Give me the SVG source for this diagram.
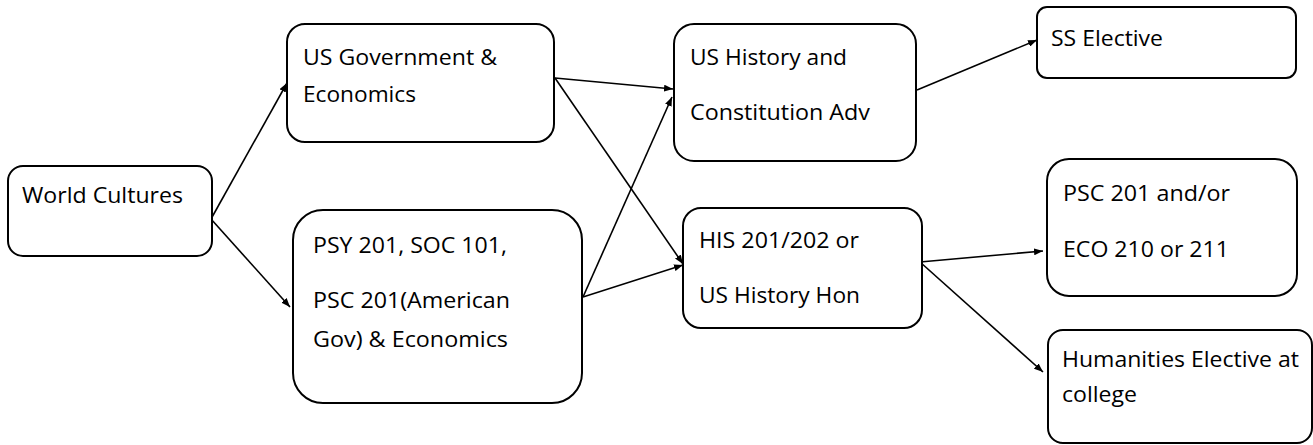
<svg xmlns="http://www.w3.org/2000/svg" width="1313" height="445" viewBox="0 0 1313 445">
<style>
.box{fill:#fff;stroke:#000;stroke-width:2}
.t{font-family:"Open Sans","Noto Sans","Liberation Sans",sans-serif;font-size:21px;fill:#000}
.c{stroke:#000;stroke-width:1.6;fill:none;marker-end:url(#ah)}
</style>
<defs>
<marker id="ah" markerUnits="userSpaceOnUse" markerWidth="9" markerHeight="7" refX="9" refY="3.5" orient="auto">
<path d="M0,0 L9,3.5 L0,7 z" fill="#000"/>
</marker>
</defs>
<rect width="1313" height="445" fill="#fff"/>
<g id="connectors">
<line class="c" x1="211" y1="219" x2="287" y2="83"/>
<line class="c" x1="211" y1="219" x2="290" y2="307"/>
<line class="c" x1="555" y1="78" x2="673" y2="89"/>
<line class="c" x1="555" y1="78" x2="683" y2="264"/>
<line class="c" x1="583" y1="297" x2="672" y2="97"/>
<line class="c" x1="583" y1="297" x2="683" y2="265"/>
<line class="c" x1="917" y1="90" x2="1037" y2="40"/>
<line class="c" x1="920" y1="262" x2="1043" y2="251"/>
<line class="c" x1="920" y1="262" x2="1043" y2="372"/>
</g>
<g id="world-cultures">
<rect class="box" x="8" y="166" width="204" height="90" rx="15"/>
<text class="t" x="22" y="203" textLength="161" lengthAdjust="spacingAndGlyphs">World Cultures</text>
</g>
<g id="us-government">
<rect class="box" x="287" y="24" width="267" height="118" rx="18"/>
<text class="t" x="303" y="65" textLength="194" lengthAdjust="spacingAndGlyphs">US Government &amp;</text>
<text class="t" x="303" y="102" textLength="113" lengthAdjust="spacingAndGlyphs">Economics</text>
</g>
<g id="psy-soc-psc">
<rect class="box" x="293" y="210" width="289" height="193" rx="30"/>
<text class="t" x="313" y="253" textLength="194" lengthAdjust="spacingAndGlyphs">PSY 201, SOC 101,</text>
<text class="t" x="313" y="308" textLength="197" lengthAdjust="spacingAndGlyphs">PSC 201(American</text>
<text class="t" x="313" y="347" textLength="195" lengthAdjust="spacingAndGlyphs">Gov) &amp; Economics</text>
</g>
<g id="us-history-adv">
<rect class="box" x="674" y="24" width="242" height="137" rx="20"/>
<text class="t" x="690" y="65" textLength="157" lengthAdjust="spacingAndGlyphs">US History and</text>
<text class="t" x="690" y="120" textLength="180" lengthAdjust="spacingAndGlyphs">Constitution Adv</text>
</g>
<g id="ss-elective">
<rect class="box" x="1037" y="7" width="259" height="71" rx="10"/>
<text class="t" x="1051" y="46" textLength="112" lengthAdjust="spacingAndGlyphs">SS Elective</text>
</g>
<g id="his-201-202">
<rect class="box" x="683" y="208" width="239" height="120" rx="18"/>
<text class="t" x="699" y="248" textLength="160" lengthAdjust="spacingAndGlyphs">HIS 201/202 or</text>
<text class="t" x="699" y="303" textLength="161" lengthAdjust="spacingAndGlyphs">US History Hon</text>
</g>
<g id="psc-eco">
<rect class="box" x="1047" y="159" width="250" height="137" rx="22"/>
<text class="t" x="1063" y="201" textLength="167" lengthAdjust="spacingAndGlyphs">PSC 201 and/or</text>
<text class="t" x="1063" y="257" textLength="166" lengthAdjust="spacingAndGlyphs">ECO 210 or 211</text>
</g>
<g id="humanities-elective">
<rect class="box" x="1048" y="330" width="264" height="113" rx="15"/>
<text class="t" x="1062" y="367" textLength="237" lengthAdjust="spacingAndGlyphs">Humanities Elective at</text>
<text class="t" x="1062" y="402" textLength="75" lengthAdjust="spacingAndGlyphs">college</text>
</g>
</svg>
